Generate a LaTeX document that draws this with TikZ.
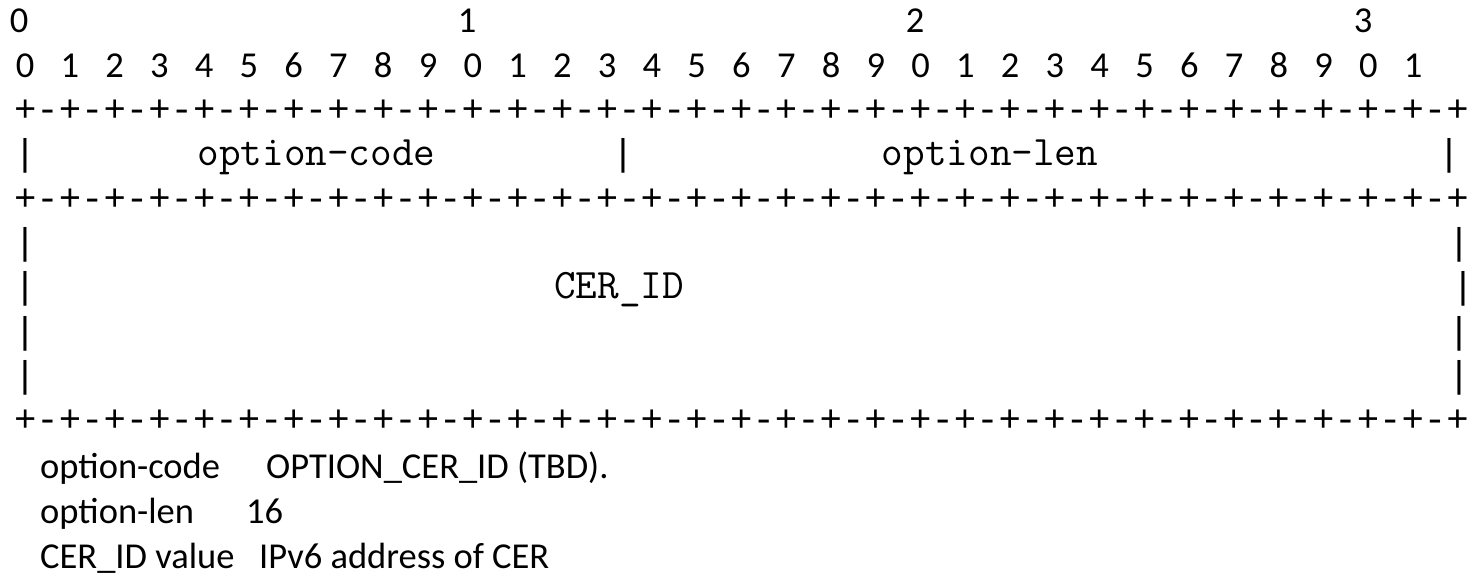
\documentclass[tikz,border=0pt]{standalone}
\usepackage{fontspec}
\usepackage{tikz}
\newfontfamily\boxmono{Liberation Mono}
\newfontfamily\notefont{Carlito}
\definecolor{FigureInk}{HTML}{000000}
\newcommand{\ruleeight}{+-+-+-+-+-+-+-+-}
\newcommand{\fieldrule}{\ruleeight\ruleeight\ruleeight\ruleeight+}
\tikzset{
  figure/.style={x=1pt,y=-1pt,text=FigureInk},
  mono/.style={font=\boxmono\fontsize{37.3}{44}\selectfont,inner sep=0pt,anchor=base},
  field/.style={font=\ttfamily\fontsize{42}{44}\selectfont,inner sep=0pt,anchor=base},
  ruler/.style={font=\notefont\fontsize{36.5}{44}\selectfont,inner sep=0pt,anchor=base},
  note/.style={font=\notefont\fontsize{36.5}{45}\selectfont,inner sep=0pt,anchor=base west},
}

\begin{document}
\begin{tikzpicture}[figure]
  \useasboundingbox (0,0) rectangle (1471,577);

  % bit ruler
  \foreach \t in {0,1,2,3}
    \node[ruler] (tens\t) at (19+448*\t,33) {\t};
  \foreach \i in {0,...,31} {
    \pgfmathtruncatemacro{\d}{mod(\i,10)}
    \node[ruler] (bit\i) at (25+44.78*\i,77.3) {\d};
  }

  % header word
  \node[mono,anchor=base west] (ruleA) at (13.8,121.6) {\fieldrule};
  \node[mono] (codeL) at (25,165.9) {|};
  \node[field] (codeTxt) at (316.5,165.9) {option-code};
  \node[mono] (codeR) at (623,165.9) {|};
  \node[field] (lenTxt) at (990,165.9) {option-len};
  \node[mono] (lenR) at (1449,165.9) {|};
  \node[mono,anchor=base west] (ruleB) at (13.8,210.2) {\fieldrule};

  % CER_ID block
  \node[mono] (idL1) at (25,254.5) {|};
  \node[mono] (idR1) at (1459,254.5) {|};
  \node[mono] (idL2) at (25,298.8) {|};
  \node[field] (idTxt) at (619,298.8) {CER\_ID};
  \node[mono] (idR2) at (1463,298.8) {\makebox[0pt]{|}};
  \node[mono] (idL3) at (25,343.1) {|};
  \node[mono] (idR3) at (1459,343.1) {|};
  \node[mono] (idL4) at (25,387.4) {|};
  \node[mono] (idR4) at (1459,387.4) {|};
  \node[mono,anchor=base west] (ruleC) at (13.8,431.7) {\fieldrule};

  % field notes
  \node[note] (noteCode) at (40,478) {option-code};
  \node[note] (noteCodeVal) at (266,478) {OPTION\_CER\_ID (TBD).};
  \node[note] (noteLen) at (40,523) {option-len};
  \node[note] (noteLenVal) at (246,523) {16};
  \node[note] (noteId) at (40,568) {CER\_ID value};
  \node[note] (noteIdVal) at (259,568) {IPv6 address of CER};
\end{tikzpicture}
\end{document}
